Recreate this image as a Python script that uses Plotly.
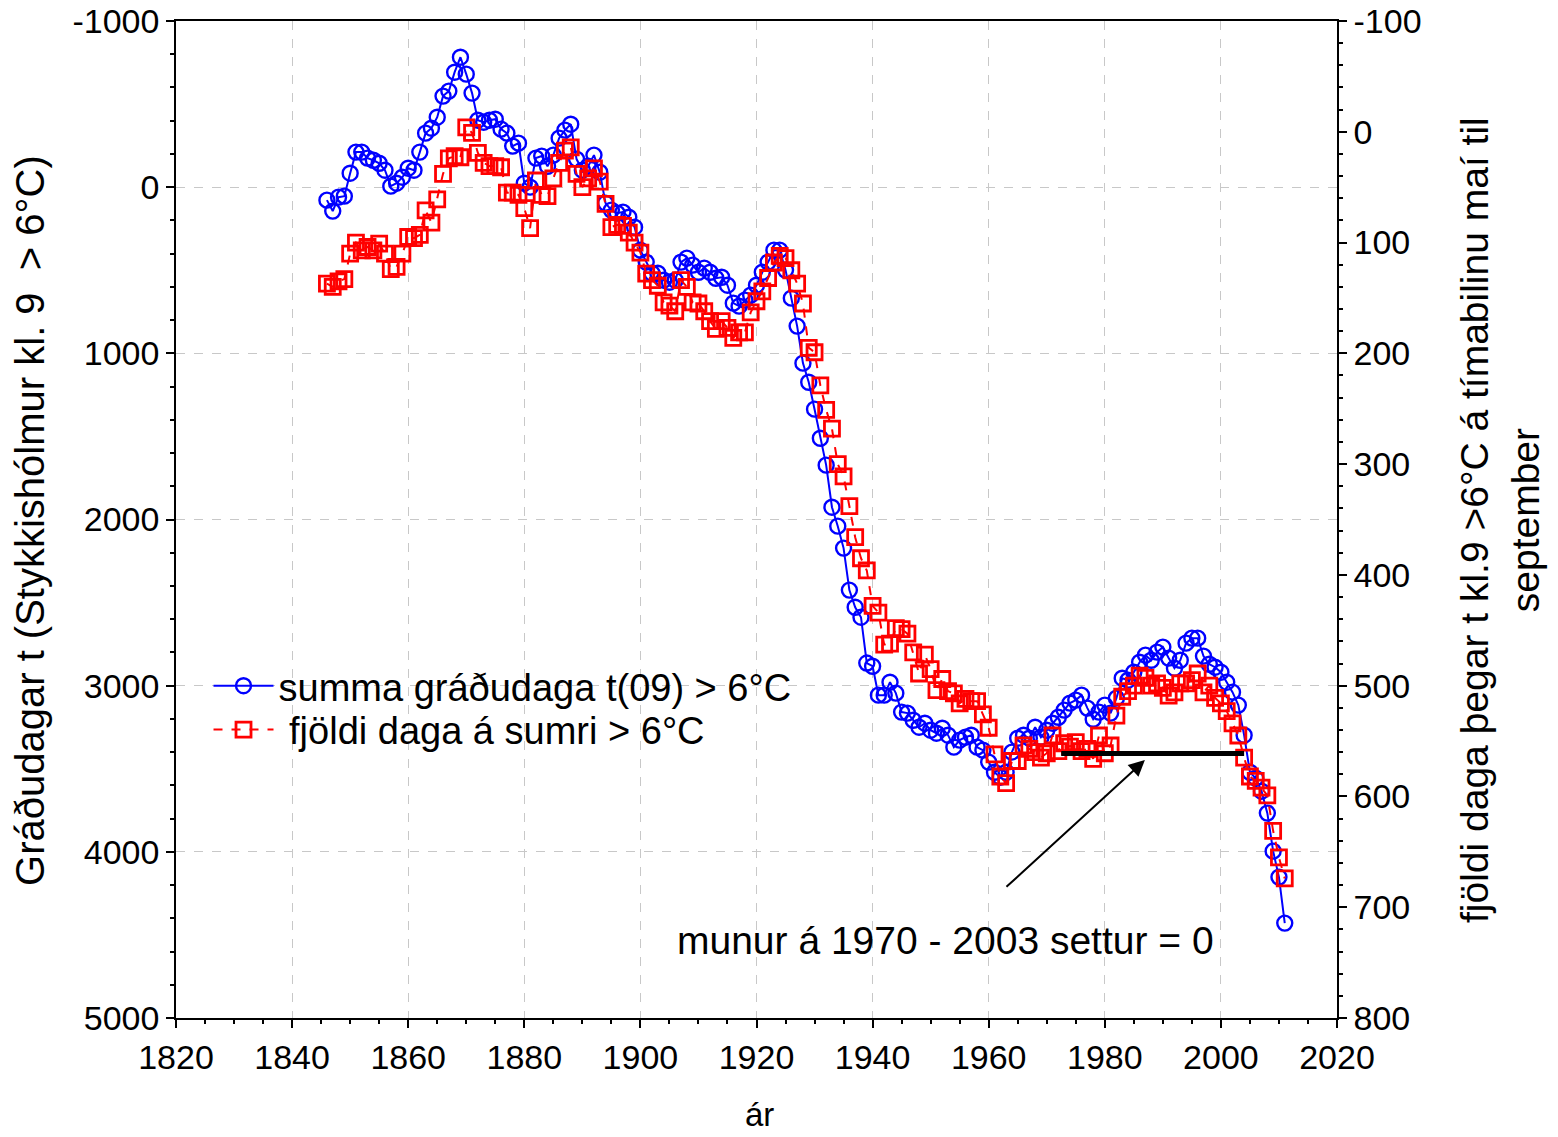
import plotly.graph_objects as go

years = list(range(1846, 2012))

# summa gráðudaga t(09) > 6°C  (left axis)
blue = [78, 144, 60, 54, -84, -211, -211, -175, -162, -144,
        -102, -6, -24, -60, -114, -102, -211, -325, -355, -421,
        -548, -578, -692, -782, -680, -566, -403, -391, -403, -409,
        -349, -325, -247, -265, -24, 0, -175, -187, -126, -193,
        -295, -343, -379, -169, -102, -126, -193, -90, 96, 138,
        156, 150, 181, 241, 379, 451, 518, 518, 560, 572,
        560, 451, 427, 469, 512, 487, 512, 548, 542, 590,
        698, 716, 680, 650, 590, 512, 451, 379, 379, 499,
        668, 836, 1059, 1174, 1336, 1511, 1673, 1926, 2040, 2172,
        2425, 2528, 2588, 2864, 2883, 3057, 3057, 2979, 3045, 3159,
        3165, 3208, 3250, 3226, 3268, 3286, 3256, 3298, 3370, 3328,
        3310, 3298, 3370, 3388, 3460, 3521, 3551, 3521, 3400, 3316,
        3298, 3316, 3250, 3310, 3268, 3226, 3190, 3147, 3105, 3087,
        3057, 3135, 3202, 3159, 3117, 3165, 3075, 2955, 2967, 2919,
        2859, 2816, 2847, 2798, 2768, 2834, 2895, 2847, 2744, 2714,
        2714, 2822, 2871, 2889, 2919, 2979, 3039, 3117, 3298, 3521,
        3557, 3635, 3767, 3996, 4152, 4429]

# fjöldi daga á sumri > 6°C  (right axis)
red = [137, 140, 135, 133, 110, 100, 107, 104, 107, 101,
       110, 124, 122, 110, 95, 96, 93, 71, 82, 61,
       38, 24, 22, 23, -4, 1, 19, 28, 31, 31,
       32, 55, 55, 57, 69, 87, 44, 57, 58, 42,
       28, 17, 14, 38, 50, 42, 33, 45, 65, 86,
       84, 85, 91, 100, 109, 128, 134, 139, 154, 157,
       162, 134, 140, 154, 155, 162, 171, 178, 171, 177,
       186, 181, 181, 163, 153, 144, 132, 118, 112, 114,
       125, 137, 155, 195, 199, 229, 251, 268, 300, 311,
       338, 366, 385, 396, 428, 434, 463, 462, 448, 449,
       453, 470, 489, 472, 485, 504, 494, 505, 507, 516,
       512, 514, 514, 526, 538, 562, 582, 588, 568, 568,
       554, 557, 560, 565, 561, 545, 559, 552, 555, 551,
       559, 557, 566, 545, 561, 554, 527, 510, 505, 500,
       491, 493, 500, 498, 502, 509, 506, 498, 498, 495,
       489, 506, 500, 511, 516, 523, 534, 545, 565, 582,
       586, 592, 599, 631, 655, 674]

x_ticks = [1820, 1840, 1860, 1880, 1900, 1920, 1940, 1960, 1980, 2000, 2020]
y_ticks = [-1000, 0, 1000, 2000, 3000, 4000, 5000]
y_ticktext = ["-1000", "0", "1000", "2000", "3000", "4000", "5000"]
y2_ticks = [-100, 0, 100, 200, 300, 400, 500, 600, 700, 800]
y2_ticktext = ["-100", "0", "100", "200", "300", "400", "500", "600", "700", "800"]

ref_period = [1972.5, 2004]
ref_level = 3408
arrow_head = (1986.9, 3448)
arrow_tail = (1962.8, 4219)

FONT = "Liberation Sans, Arial, sans-serif"
FS = 34

fig = go.Figure()
fig.add_trace(go.Scatter(
    x=years, y=blue, mode="lines+markers",
    name="summa gráðudaga t(09) > 6°C", legend="legend",
    line=dict(color="#0000ff", width=2),
    marker=dict(symbol="circle-open", size=15, color="#0000ff",
                line=dict(width=2.4, color="#0000ff")),
))
fig.add_trace(go.Scatter(
    x=years, y=red, mode="lines+markers", yaxis="y2",
    name=" fjöldi daga á sumri > 6°C", legend="legend2",
    line=dict(color="#ff0000", width=2, dash="dash"),
    marker=dict(symbol="square-open", size=15, color="#ff0000",
                line=dict(width=2.8, color="#ff0000")),
))

fig.add_shape(type="line", xref="x", yref="y",
              x0=ref_period[0], x1=ref_period[1], y0=ref_level, y1=ref_level,
              line=dict(color="black", width=5))

fig.add_annotation(x=arrow_head[0], y=arrow_head[1], ax=arrow_tail[0], ay=arrow_tail[1],
                   xref="x", yref="y", axref="x", ayref="y", text="",
                   showarrow=True, arrowhead=2, arrowsize=1.6, arrowwidth=2,
                   arrowcolor="black")
fig.add_annotation(x=1952.6, y=4531, xref="x", yref="y",
                   text="munur á 1970 - 2003 settur = 0", showarrow=False,
                   font=dict(family=FONT, size=39, color="black"))

# axis titles
fig.add_annotation(x=-0.1258, y=0.4995, xref="paper", yref="paper",
                   text="Gráðudagar t (Stykkishólmur kl. 9  > 6°C)", textangle=-90,
                   showarrow=False, xanchor="center", yanchor="middle",
                   font=dict(family=FONT, size=40, color="black"))
fig.add_annotation(x=1.1404, y=0.4995, xref="paper", yref="paper",
                   text="fjöldi daga þegar t kl.9 >6°C á tímabilinu maí til<br>september",
                   textangle=-90, showarrow=False, xanchor="center", yanchor="middle",
                   font=dict(family=FONT, size=39, color="black"))
fig.add_annotation(x=0.503, y=-0.0965, xref="paper", yref="paper",
                   text="ár", showarrow=False, xanchor="center", yanchor="middle",
                   font=dict(family=FONT, size=33, color="black"))

axis_common = dict(showline=True, linecolor="black", linewidth=1.5,
                   ticks="outside", ticklen=8, tickwidth=1.5, tickcolor="black",
                   tickfont=dict(family=FONT, size=FS, color="black"),
                   zeroline=False, automargin=False)

legend_common = dict(xanchor="left", yanchor="middle", bgcolor="rgba(0,0,0,0)",
                     font=dict(family=FONT, size=38), itemwidth=60)

fig.update_layout(
    width=1558, height=1137,
    margin=dict(l=176, r=221, t=21, b=119),
    paper_bgcolor="white", plot_bgcolor="white",
    font=dict(family=FONT, size=FS, color="black"),
    showlegend=True,
    legend=dict(x=0.028, y=0.333, **legend_common),
    legend2=dict(x=0.028, y=0.289, **legend_common),
    xaxis=dict(range=[1820, 2020], tickvals=x_ticks, mirror=True,
               showgrid=True, gridcolor="#c8c8c8", griddash="dash", gridwidth=1,
               minor=dict(ticks="outside", ticklen=4, dtick=5, tickcolor="black", showgrid=False),
               **axis_common),
    yaxis=dict(range=[5000, -1000], tickvals=y_ticks, ticktext=y_ticktext, mirror=True,
               showgrid=True, gridcolor="#c8c8c8", griddash="dash", gridwidth=1,
               minor=dict(ticks="outside", ticklen=4, dtick=200, tickcolor="black", showgrid=False),
               **axis_common),
    yaxis2=dict(range=[800, -100], tickvals=y2_ticks, ticktext=y2_ticktext,
                overlaying="y", side="right", showgrid=False,
                minor=dict(ticks="outside", ticklen=4, dtick=20, tickcolor="black", showgrid=False),
                **axis_common),
)

fig.write_html("out.html")
